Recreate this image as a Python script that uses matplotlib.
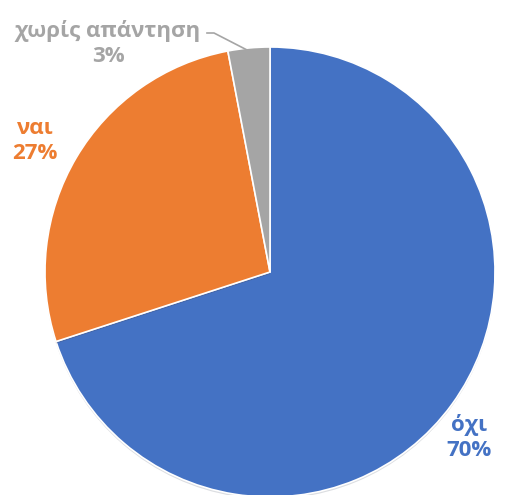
import matplotlib
matplotlib.use("Agg")
import matplotlib.pyplot as plt
import matplotlib.patheffects as pe

labels = ["όχι", "ναι", "χωρίς απάντηση"]
shares = [70, 27, 3]
colors = ["#4472C4", "#ED7D31", "#A5A5A5"]

plt.rcParams["font.family"] = ["Open Sans", "Lato", "DejaVu Sans"]

fig = plt.figure(figsize=(5.2, 4.95), dpi=100)
ax = fig.add_axes([0, 0, 1, 1])

wedges, _ = ax.pie(shares, colors=colors, startangle=90, counterclock=False,
                   center=(270, 223), radius=225, frame=True,
                   wedgeprops=dict(linewidth=1.2, edgecolor="white"))
for w in wedges:
    w.set_path_effects([pe.SimplePatchShadow(offset=(0, -1.5), alpha=0.15),
                        pe.Normal()])
ax.set_xlim(0, 520)
ax.set_ylim(0, 495)
ax.set_aspect("equal")
ax.axis("off")

# label positions (centre of each two-line label)
spots = [(469, 57), (35, 354), (108, 452)]
for lab, val, col, (x, y) in zip(labels, shares, colors, spots):
    ax.text(x, y, f"{lab}\n{val}%", color=col, fontsize=16, fontweight="bold",
            ha="center", va="center", linespacing=1.25)

# leader line for the small slice
ax.plot([207, 214, 249], [462, 462, 444], color="#A5A5A5", lw=1.2)

fig.savefig("out.png", dpi=100)
